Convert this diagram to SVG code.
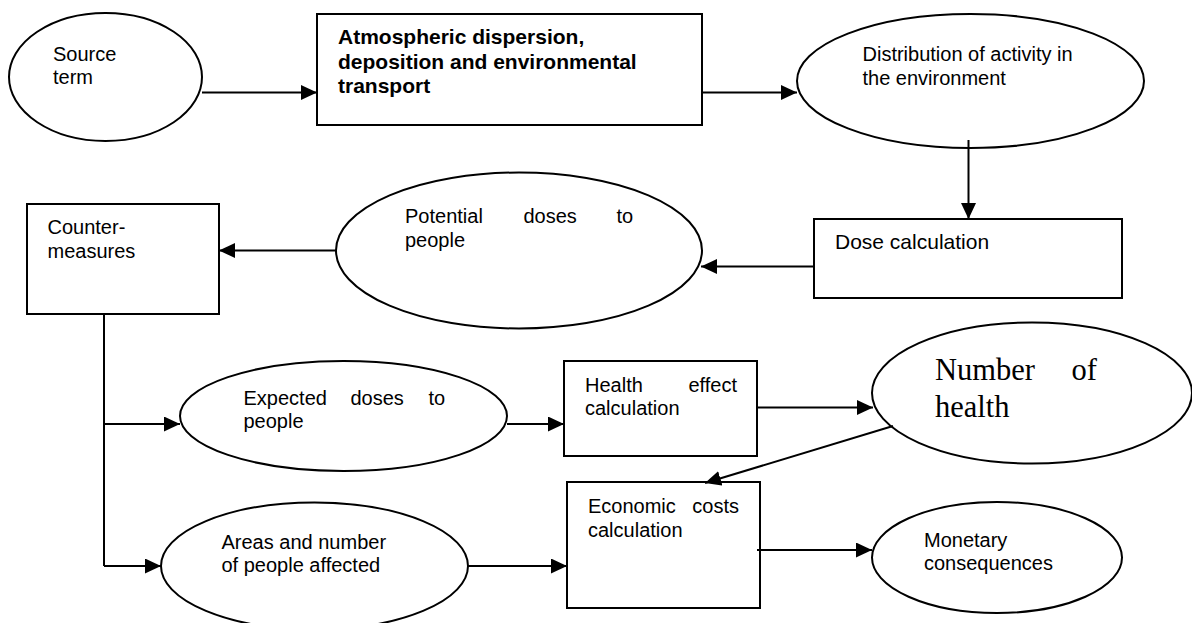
<svg xmlns="http://www.w3.org/2000/svg" width="1192" height="623" viewBox="0 0 1192 623">
<style>
.shape{fill:#fff;stroke:#000;stroke-width:2}
.t{font-family:"Liberation Sans",Arial,sans-serif;font-size:20px;fill:#000}
.b{font-weight:bold;font-size:21px}
.s{font-family:"Liberation Serif","Times New Roman",serif;font-size:30.5px;fill:#000}
.c{stroke:#000;stroke-width:2;fill:none}
</style>
<defs>
<marker id="ah" markerUnits="userSpaceOnUse" markerWidth="16" markerHeight="15" refX="16" refY="7.5" orient="auto">
<path d="M0,0 L16,7.5 L0,15 z" fill="#000"/>
</marker>
</defs>
<rect width="1192" height="623" fill="#fff"/>
<g id="source">
<ellipse class="shape" cx="105.5" cy="77" rx="96.5" ry="64"/>
<text class="t" x="53" y="60.5">Source</text>
<text class="t" x="53" y="84">term</text>
</g>
<g id="atmospheric">
<rect class="shape" x="317" y="14" width="385" height="111"/>
<text class="t b" x="338" y="44">Atmospheric dispersion,</text>
<text class="t b" x="338" y="69">deposition and environmental</text>
<text class="t b" x="338" y="93">transport</text>
</g>
<g id="distribution">
<ellipse class="shape" cx="970.5" cy="81" rx="173.5" ry="67"/>
<text class="t" x="862.5" y="61">Distribution of activity in</text>
<text class="t" x="862.5" y="85">the environment</text>
</g>
<g id="dose">
<rect class="shape" x="814" y="219" width="308" height="79"/>
<text class="t" x="835" y="249" style="font-size:21px">Dose calculation</text>
</g>
<g id="potential">
<ellipse class="shape" cx="519" cy="250.5" rx="183" ry="78"/>
<text class="t" x="405" y="222.5">Potential</text>
<text class="t" x="523.5" y="222.5">doses</text>
<text class="t" x="616.5" y="222.5">to</text>
<text class="t" x="405" y="246.5">people</text>
</g>
<g id="countermeasures">
<rect class="shape" x="27" y="204" width="192" height="110"/>
<text class="t" x="47.5" y="234">Counter-</text>
<text class="t" x="47.5" y="258">measures</text>
</g>
<g id="expected">
<ellipse class="shape" cx="343.5" cy="416" rx="163.5" ry="55"/>
<text class="t" x="243.5" y="405">Expected</text>
<text class="t" x="350.5" y="405">doses</text>
<text class="t" x="428.5" y="405">to</text>
<text class="t" x="243.5" y="428">people</text>
</g>
<g id="health">
<rect class="shape" x="564" y="361" width="193" height="95"/>
<text class="t" x="585" y="391.5">Health</text>
<text class="t" x="737" y="391.5" text-anchor="end">effect</text>
<text class="t" x="585" y="415">calculation</text>
</g>
<g id="number">
<ellipse class="shape" cx="1032" cy="393" rx="160" ry="70.5"/>
<text class="s" x="935" y="380">Number</text>
<text class="s" x="1071.5" y="380">of</text>
<text class="s" x="935" y="416.5">health</text>
</g>
<g id="areas">
<ellipse class="shape" cx="314.5" cy="566" rx="153.5" ry="63.5"/>
<text class="t" x="221.5" y="548.5">Areas and number</text>
<text class="t" x="221.5" y="571.5">of people affected</text>
</g>
<g id="economic">
<rect class="shape" x="567" y="482" width="193" height="126"/>
<text class="t" x="588" y="512.5">Economic</text>
<text class="t" x="739" y="512.5" text-anchor="end">costs</text>
<text class="t" x="588" y="536.5">calculation</text>
</g>
<g id="monetary">
<ellipse class="shape" cx="997" cy="557.5" rx="125" ry="55.5"/>
<text class="t" x="924" y="546.5">Monetary</text>
<text class="t" x="924" y="570">consequences</text>
</g>
<g id="connectors">
<line class="c" x1="202" y1="92.5" x2="317" y2="92.5" marker-end="url(#ah)"/>
<line class="c" x1="702" y1="92.5" x2="797" y2="92.5" marker-end="url(#ah)"/>
<line class="c" x1="968.5" y1="140" x2="968.5" y2="219" marker-end="url(#ah)"/>
<line class="c" x1="814" y1="266.5" x2="701" y2="266.5" marker-end="url(#ah)"/>
<line class="c" x1="336" y1="250.5" x2="219" y2="250.5" marker-end="url(#ah)"/>
<polyline class="c" points="104,314 104,566"/>
<line class="c" x1="104" y1="424" x2="180" y2="424" marker-end="url(#ah)"/>
<line class="c" x1="104" y1="566" x2="161" y2="566" marker-end="url(#ah)"/>
<line class="c" x1="507" y1="424" x2="564" y2="424" marker-end="url(#ah)"/>
<line class="c" x1="758" y1="407.5" x2="873" y2="407.5" marker-end="url(#ah)"/>
<line class="c" x1="893" y1="426" x2="705" y2="483" marker-end="url(#ah)"/>
<line class="c" x1="468" y1="566" x2="567" y2="566" marker-end="url(#ah)"/>
<line class="c" x1="757" y1="550" x2="872" y2="550" marker-end="url(#ah)"/>
</g>
</svg>
